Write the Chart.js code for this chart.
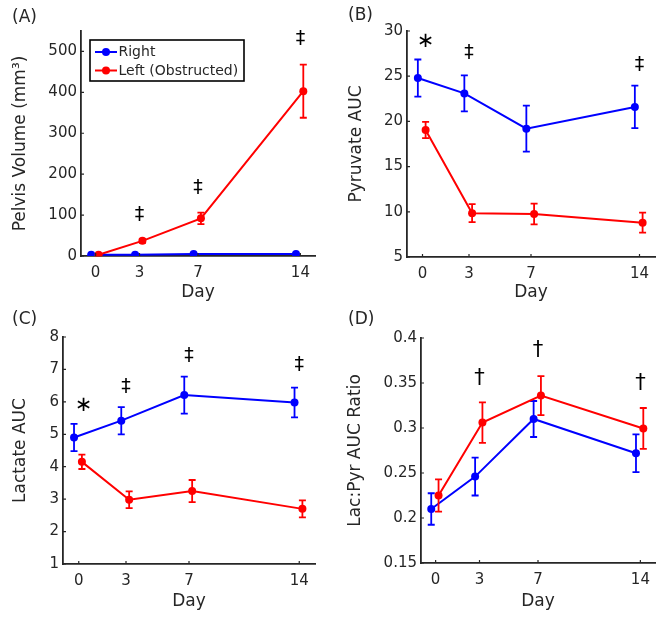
<!DOCTYPE html>
<html><head><meta charset="utf-8">
<script src="https://cdn.jsdelivr.net/npm/chart.js@4.4.0/dist/chart.umd.min.js"></script>
<style>
html,body{margin:0;padding:0;background:#fff;}
#wrap{position:relative;width:664px;height:617px;overflow:hidden;}
canvas{position:absolute;left:0;top:0;}
</style></head><body>
<div id="wrap">
<canvas id="cA" width="664" height="617"></canvas>
<canvas id="cB" width="664" height="617"></canvas>
<canvas id="cC" width="664" height="617"></canvas>
<canvas id="cD" width="664" height="617"></canvas>
</div>
<script>
// ---- data ----
const days = [0, 3, 7, 14];
const dayTicks = [0, 3, 7, 14];
const seriesNames = ['Right', 'Left (Obstructed)'];

// (A) Pelvis volume
const volRight = [3, 3, 5, 5];
const volRightErr = [1, 1, 1, 1];
const volLeft = [3, 37, 92, 403];
const volLeftErr = [2, 5, 14, 65];
const volTicks = [0, 100, 200, 300, 400, 500];

// (B) Pyruvate AUC
const pyrRight = [24.8, 23.1, 19.2, 21.6];
const pyrRightErr = [2.05, 2.0, 2.55, 2.35];
const pyrLeft = [19.05, 9.85, 9.75, 8.8];
const pyrLeftErr = [0.9, 1.0, 1.15, 1.1];
const pyrTicks = [5, 10, 15, 20, 25, 30];

// (C) Lactate AUC
const lacRight = [4.9, 5.42, 6.21, 5.98];
const lacRightErr = [0.42, 0.42, 0.57, 0.46];
const lacLeft = [4.15, 2.98, 3.25, 2.7];
const lacLeftErr = [0.22, 0.26, 0.34, 0.26];
const lacTicks = [1, 2, 3, 4, 5, 6, 7, 8];

// (D) Lac:Pyr AUC ratio
const ratioRight = [0.21, 0.246, 0.31, 0.272];
const ratioRightErr = [0.0175, 0.021, 0.02, 0.021];
const ratioLeft = [0.225, 0.306, 0.336, 0.2995];
const ratioLeftErr = [0.018, 0.0225, 0.0216, 0.0227];
const ratioTicks = [0.15, 0.2, 0.25, 0.3, 0.35, 0.4];

// significance marks (day, value, symbol)
const marksA = [[3, 100, '‡'], [7, 166, '‡'], [14, 530, '‡']];
const marksB = [[0.2, 28.8, '∗'], [3, 27.6, '‡'], [14, 26.2, '‡']];
const marksC = [[0.3, 5.9, '∗'], [3, 6.45, '‡'], [7, 7.42, '‡'], [14, 7.12, '‡']];
const marksD = [[3, 0.355, '†'], [7, 0.3865, '†'], [14, 0.3496, '†']];

// ---- style ----
const BLUE = '#0000ff', RED = '#ff0000', INK = '#262626';
const FAM = '"DejaVu Sans", Verdana, sans-serif';
const OFF_R = -0.3, OFF_L = 0.2;

const pts = (vals, off) => vals.map((v, i) => ({x: days[i] + off, y: v}));

const errPlugin = {
  id: 'errbars',
  beforeDatasetDraw(chart, args) {
    const ds = chart.data.datasets[args.index];
    if (!ds.err) return;
    const ctx = chart.ctx, xs = chart.scales.x, ys = chart.scales.y;
    ctx.save();
    ctx.strokeStyle = ds.borderColor; ctx.lineWidth = 1.8;
    ds.data.forEach((p, i) => {
      const x = xs.getPixelForValue(p.x);
      const y1 = ys.getPixelForValue(p.y - ds.err[i]);
      const y2 = ys.getPixelForValue(p.y + ds.err[i]);
      ctx.beginPath();
      ctx.moveTo(x, y1); ctx.lineTo(x, y2);
      ctx.moveTo(x - 3.5, y1); ctx.lineTo(x + 3.5, y1);
      ctx.moveTo(x - 3.5, y2); ctx.lineTo(x + 3.5, y2);
      ctx.stroke();
    });
    ctx.restore();
  }
};

const decoPlugin = {
  id: 'deco',
  afterDraw(chart, args, o) {
    const ctx = chart.ctx, xs = chart.scales.x, ys = chart.scales.y, ca = chart.chartArea;
    ctx.save();
    // inward tick marks
    ctx.strokeStyle = INK; ctx.lineWidth = 1.2;
    ctx.beginPath();
    ys.ticks.forEach(t => { const y = ys.getPixelForValue(t.value); ctx.moveTo(ca.left, y); ctx.lineTo(ca.left + 3, y); });
    xs.ticks.forEach(t => { const x = xs.getPixelForValue(t.value); ctx.moveTo(x, ca.bottom); ctx.lineTo(x, ca.bottom - 3); });
    ctx.stroke();
    // panel label
    ctx.fillStyle = INK; ctx.font = '17px ' + FAM; ctx.textAlign = 'left'; ctx.textBaseline = 'middle';
    ctx.fillText(o.label, o.lx, o.ly);
    // significance marks
    ctx.fillStyle = '#000'; ctx.textAlign = 'center';
    o.marks.forEach(m => {
      const sz = m[2] === '†' ? 21 : (m[2] === '∗' ? 21 : 19);
      ctx.font = sz + 'px ' + FAM;
      ctx.fillText(m[2], xs.getPixelForValue(m[0]), ys.getPixelForValue(m[1]));
    });
    // legend
    if (o.legend) {
      const L = o.legend;
      ctx.fillStyle = '#fff'; ctx.fillRect(L.x, L.y, L.w, L.h);
      ctx.strokeStyle = '#000'; ctx.lineWidth = 1.6; ctx.strokeRect(L.x, L.y, L.w, L.h);
      const cols = [BLUE, RED];
      seriesNames.forEach((name, i) => {
        const y = L.rows[i];
        ctx.strokeStyle = cols[i]; ctx.lineWidth = 2;
        ctx.beginPath(); ctx.moveTo(L.x + 5, y); ctx.lineTo(L.x + 27, y); ctx.stroke();
        ctx.fillStyle = cols[i]; ctx.beginPath(); ctx.arc(L.x + 16, y, 4, 0, Math.PI * 2); ctx.fill();
        ctx.fillStyle = INK; ctx.font = '14px ' + FAM; ctx.textAlign = 'left'; ctx.textBaseline = 'middle';
        ctx.fillText(name, L.x + 28.5, y + 0.5);
      });
    }
    ctx.restore();
  }
};

function makePanel(id, c) {
  const tickFont = {family: FAM, size: 15};
  const titleFont = {family: FAM, size: 17};
  new Chart(document.getElementById(id), {
    type: 'line',
    data: {datasets: [
      {label: seriesNames[0], data: pts(c.right, OFF_R), err: c.rightErr, borderColor: BLUE, backgroundColor: BLUE, order: 2},
      {label: seriesNames[1], data: pts(c.left, OFF_L), err: c.leftErr, borderColor: RED, backgroundColor: RED, order: 1}
    ]},
    options: {
      responsive: false, animation: false, devicePixelRatio: 1,
      layout: {padding: c.pad},
      elements: {
        line: {borderWidth: 2, tension: 0},
        point: {radius: 4, borderWidth: 0, hoverRadius: 4}
      },
      plugins: {legend: {display: false}, tooltip: {enabled: false},
        deco: {label: c.label, lx: c.lx, ly: c.ly, marks: c.marks, legend: c.legend}},
      scales: {
        x: {type: 'linear', min: -1, max: 15,
          afterBuildTicks: s => { s.ticks = dayTicks.map(v => ({value: v})); },
          afterFit: s => { s.height = 50; },
          grid: {display: false, drawTicks: false},
          border: {display: true, color: INK, width: 1.8},
          ticks: {font: tickFont, color: INK, padding: 8, autoSkip: false, maxRotation: 0},
          title: {display: true, text: 'Day', font: titleFont, color: INK, padding: {top: 0, bottom: c.xpb}}},
        y: {type: 'linear', min: c.yTicks[0], max: c.ymax,
          afterBuildTicks: s => { s.ticks = c.yTicks.map(v => ({value: v})); },
          afterFit: s => { s.width = c.yW; },
          grid: {display: false, drawTicks: false},
          border: {display: true, color: INK, width: 1.8},
          ticks: {font: tickFont, color: INK, padding: 4, callback: v => String(+v.toFixed(3))},
          title: {display: true, text: c.ytitle, font: titleFont, color: INK, padding: {top: c.ypt, bottom: 0}}}
      }
    },
    plugins: [errPlugin, decoPlugin]
  });
}

makePanel('cA', {right: volRight, rightErr: volRightErr, left: volLeft, leftErr: volLeftErr,
  yTicks: volTicks, ymax: 550, ytitle: 'Pelvis Volume (mm³)',
  pad: {left: 0, top: 31, right: 349, bottom: 311}, yW: 81, ypt: 10, xpb: 3,
  label: '(A)', lx: 12, ly: 18, marks: marksA,
  legend: {x: 90, y: 40, w: 154, h: 41, rows: [52, 70.5]}});
makePanel('cB', {right: pyrRight, rightErr: pyrRightErr, left: pyrLeft, leftErr: pyrLeftErr,
  yTicks: pyrTicks, ymax: 30, ytitle: 'Pyruvate AUC',
  pad: {left: 332, top: 31, right: 9, bottom: 310}, yW: 75, ypt: 14.5, xpb: 4,
  label: '(B)', lx: 348, ly: 16, marks: marksB});
makePanel('cC', {right: lacRight, rightErr: lacRightErr, left: lacLeft, leftErr: lacLeftErr,
  yTicks: lacTicks, ymax: 8, ytitle: 'Lactate AUC',
  pad: {left: 0, top: 337, right: 349, bottom: 3}, yW: 63, ypt: 10, xpb: 2,
  label: '(C)', lx: 12, ly: 320, marks: marksC});
makePanel('cD', {right: ratioRight, rightErr: ratioRightErr, left: ratioLeft, leftErr: ratioLeftErr,
  yTicks: ratioTicks, ymax: 0.4, ytitle: 'Lac:Pyr AUC Ratio',
  pad: {left: 332, top: 338, right: 9, bottom: 4}, yW: 89, ypt: 13.5, xpb: 1,
  label: '(D)', lx: 348, ly: 320, marks: marksD});
</script>
</body></html>
